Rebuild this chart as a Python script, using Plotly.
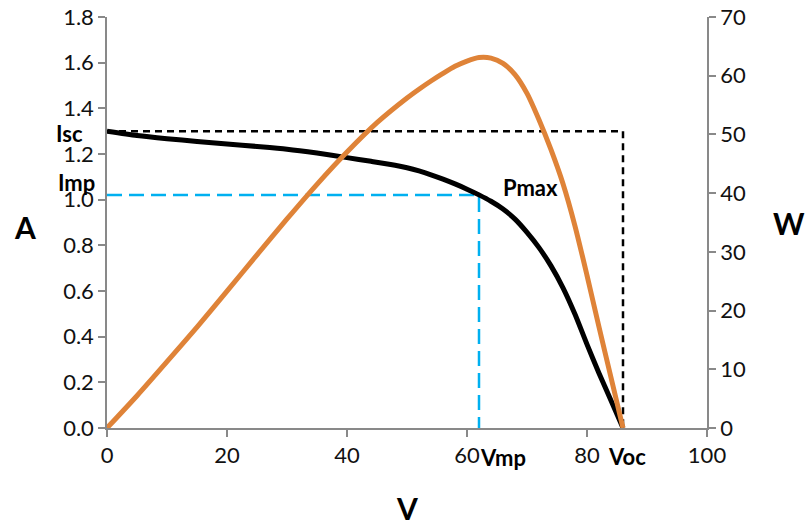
import plotly.graph_objects as go

# Current-voltage characteristic of the module
v_iv = [0, 5, 10, 15, 20, 25, 30, 35, 40, 44, 48, 50, 52, 54, 56, 58, 60, 62,
        64, 66, 68, 70, 72, 74, 76, 78, 80, 82, 84, 86]
i_amp = [1.30, 1.281, 1.267, 1.255, 1.244, 1.233, 1.221, 1.204, 1.184, 1.168,
         1.151, 1.140, 1.126, 1.109, 1.090, 1.069, 1.046, 1.021, 0.993, 0.959,
         0.915, 0.857, 0.790, 0.710, 0.614, 0.498, 0.366, 0.240, 0.120, 0.0]

# Power-voltage characteristic
v_pw = [0, 5, 10, 15, 20, 25, 30, 35, 40, 45, 50, 52, 54, 56, 58, 60, 62, 64,
        66, 68, 70, 72, 74, 76, 78, 80, 82, 84, 86]
p_watt = [0, 5.5, 11.3, 17.2, 23.3, 29.5, 35.6, 41.5, 47.0, 52.0, 56.2, 57.7,
          59.1, 60.4, 61.6, 62.5, 63.1, 63.0, 62.1, 60.2, 57.0, 52.5, 47.4,
          41.6, 34.4, 26.0, 17.2, 8.6, 0]

# Characteristic points
isc = 1.30
imp = 1.02
vmp = 62
voc = 86

x_ticks = [0, 20, 40, 60, 80, 100]
a_ticks = [0.0, 0.2, 0.4, 0.6, 0.8, 1.0, 1.2, 1.4, 1.6, 1.8]
w_ticks = [0, 10, 20, 30, 40, 50, 60, 70]

FONT = "Lato"
AXIS_GREY = "#898989"
ORANGE = "#DF8338"
BLUE = "#00B0F0"

fig = go.Figure()

# Isc / Voc guide (black dashed)
fig.add_trace(go.Scatter(
    x=[0, voc, voc], y=[isc, isc, 0], mode="lines",
    line=dict(color="black", width=2.5, dash="7px,5px"),
    hoverinfo="skip", showlegend=False))

# Imp / Vmp guide (blue dashed)
fig.add_trace(go.Scatter(
    x=[0, vmp, vmp], y=[imp, imp, 0], mode="lines",
    line=dict(color=BLUE, width=2.5, dash="15px,7px"),
    hoverinfo="skip", showlegend=False))

# I-V curve
fig.add_trace(go.Scatter(
    x=v_iv, y=i_amp, mode="lines",
    line=dict(color="black", width=5, shape="spline", smoothing=0.7),
    showlegend=False))

# P-V curve on the right axis
fig.add_trace(go.Scatter(
    x=v_pw, y=p_watt, mode="lines", yaxis="y2",
    line=dict(color=ORANGE, width=5, shape="spline", smoothing=0.7),
    showlegend=False))

axis_common = dict(
    showgrid=False, zeroline=False, showline=True, linecolor=AXIS_GREY,
    linewidth=1.5, ticks="outside", ticklen=7, tickcolor=AXIS_GREY,
    tickwidth=1.5, tickfont=dict(family=FONT, size=22, color="#111111"),
    automargin=False,
)

fig.update_layout(
    width=805, height=523,
    margin=dict(l=107, r=98, t=17, b=95),
    paper_bgcolor="white", plot_bgcolor="white",
    xaxis=dict(range=[0, 100], tickvals=x_ticks, **axis_common),
    yaxis=dict(range=[0, 1.8], tickvals=a_ticks, tickformat=".1f",
               **axis_common),
    yaxis2=dict(range=[0, 70], tickvals=w_ticks, overlaying="y",
                side="right", **axis_common),
)

bold = dict(family=FONT, size=22, color="black")
title_font = dict(family=FONT, size=30, color="black")

annotations = [
    # axis titles
    dict(text="<b>A</b>", xref="paper", yref="paper", x=-0.137, y=0.49,
         xanchor="center", yanchor="middle", showarrow=False,
         font=title_font),
    dict(text="<b>W</b>", xref="paper", yref="paper", x=1.136, y=0.50,
         xanchor="center", yanchor="middle", showarrow=False,
         font=title_font),
    dict(text="<b>V</b>", xref="paper", yref="paper", x=0.50, y=-0.194,
         xanchor="center", yanchor="middle", showarrow=False,
         font=title_font),
    # characteristic point labels
    dict(text="<b>Isc</b>", x=0, y=isc, xanchor="right", xshift=-22,
         yshift=-2, showarrow=False, font=bold),
    dict(text="<b>Imp</b>", x=0, y=imp, xanchor="right", xshift=-10,
         yshift=13, showarrow=False, font=bold),
    dict(text="<b>Pmax</b>", x=vmp, y=imp, xanchor="left", xshift=22,
         yshift=8, showarrow=False, font=bold),
    dict(text="<b>Vmp</b>", x=vmp, y=0, xanchor="left", xshift=-1,
         yshift=-29, showarrow=False, font=bold),
    dict(text="<b>Voc</b>", x=voc, y=0, xanchor="center", xshift=4,
         yshift=-28, showarrow=False, font=bold),
]
fig.update_layout(annotations=annotations)

fig.write_html("out.html")
